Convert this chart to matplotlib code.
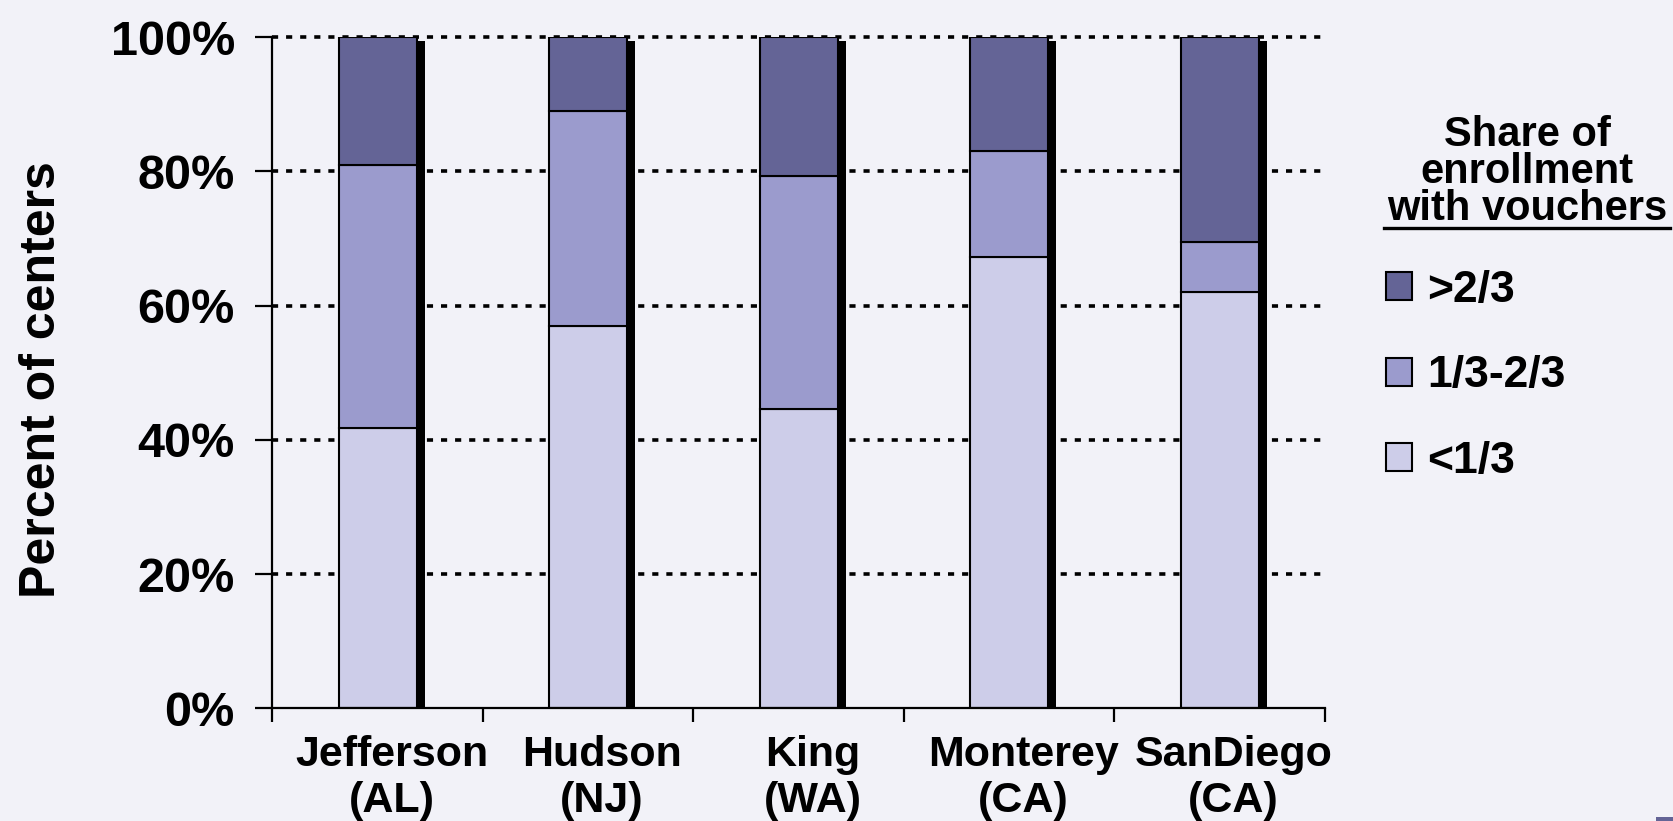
import matplotlib
matplotlib.use("Agg")
import matplotlib.pyplot as plt
import matplotlib.patches as mpatches
from matplotlib.transforms import ScaledTranslation
import numpy as np

# Data: share of centers by voucher enrollment share (percent)
counties = ["Jefferson\n(AL)", "Hudson\n(NJ)", "King\n(WA)", "Monterey\n(CA)", "SanDiego\n(CA)"]
low_share = [41.7, 57.0, 44.6, 67.2, 62.0]      # <1/3
mid_share = [39.2, 32.0, 34.7, 15.8, 7.5]       # 1/3-2/3
high_share = [19.1, 11.0, 20.7, 17.0, 30.5]     # >2/3
yticks = [0, 20, 40, 60, 80, 100]
ytick_labels = ["0%", "20%", "40%", "60%", "80%", "100%"]
legend_labels = [">2/3", "1/3-2/3", "<1/3"]

BG = "#f2f2f8"
C_HIGH = "#646496"
C_MID = "#9b9bcd"
C_LOW = "#cdcde9"

plt.rcParams["font.family"] = ["Liberation Sans", "DejaVu Sans"]
plt.rcParams["font.weight"] = "bold"

W, H, DPI = 1673, 821, 100
fig = plt.figure(figsize=(W / DPI, H / DPI), dpi=DPI, facecolor=BG)
ax = fig.add_axes([272.3 / W, 1 - 708.3 / H, (1325 - 272.3) / W, (708.3 - 37.3) / H])
ax.set_facecolor(BG)

x = np.arange(len(counties))
width = 0.37
low = np.array(low_share)
mid = np.array(mid_share)
high = np.array(high_share)
total = low + mid + high

# drop shadow behind each stacked bar
shadow_tr = ax.transData + ScaledTranslation(8 / DPI, -4 / DPI, fig.dpi_scale_trans)
ax.bar(x, total, width, color="black", edgecolor="none", transform=shadow_tr, zorder=1)

kw = dict(edgecolor="black", linewidth=1.5, zorder=2)
ax.bar(x, low, width, color=C_LOW, **kw)
ax.bar(x, mid, width, bottom=low, color=C_MID, **kw)
ax.bar(x, high, width, bottom=low + mid, color=C_HIGH, **kw)

ax.set_xlim(-0.5, len(counties) - 0.5)
ax.set_ylim(0, 100)

# dotted horizontal gridlines
for yv in yticks[1:]:
    ax.axhline(yv, color="black", linewidth=2.6, linestyle=(0, (1.7, 2.2)),
               zorder=0.5, clip_on=False)

for s in ["top", "right"]:
    ax.spines[s].set_visible(False)
for s in ["left", "bottom"]:
    ax.spines[s].set_linewidth(1.6)
    ax.spines[s].set_zorder(3)

ax.set_yticks(yticks)
ax.set_yticklabels(ytick_labels, fontsize=35, fontweight="bold")
ax.tick_params(axis="y", length=12, width=1.6, pad=15, direction="out")

ax.set_xticks(x)
ax.set_xticklabels(counties, fontsize=31, fontweight="bold", linespacing=1.2)
ax.set_xticks(np.arange(-0.5, len(counties)), minor=True)
ax.tick_params(axis="x", which="major", length=0, pad=19)
ax.tick_params(axis="x", which="minor", length=10, width=1.6, direction="out")
label_shift = ScaledTranslation(14 / DPI, 0, fig.dpi_scale_trans)
for lbl in ax.get_xticklabels():
    lbl.set_transform(lbl.get_transform() + label_shift)

fig.text(55 / W, 1 - 380 / H, "Percent of centers", rotation=90, fontsize=36,
         fontweight="bold", ha="center", va="baseline", rotation_mode="anchor")

# legend title with underline on its last line
fig.text(1527 / W, 1 - 220 / H, "Share of\nenrollment\nwith vouchers", fontsize=30,
         fontweight="bold", ha="center", va="baseline", multialignment="center",
         linespacing=0.91)
fig.add_artist(plt.Line2D([1384 / W, 1670 / W], [1 - 228 / H, 1 - 228 / H],
                          color="black", linewidth=2.4))

handles = [mpatches.Patch(facecolor=c, edgecolor="black", linewidth=1.5)
           for c in (C_HIGH, C_MID, C_LOW)]
fig.legend(handles, legend_labels, loc="upper left",
           bbox_to_anchor=(1386 / W, 1 - 270 / H), frameon=False,
           prop={"size": 32, "weight": "bold"}, handlelength=0.58, handleheight=0.58,
           handletextpad=0.35, labelspacing=1.0, borderaxespad=0, borderpad=0)

fig.add_artist(mpatches.Rectangle((1656 / W, 0), 17 / W, 4 / H, facecolor=C_HIGH,
                                  edgecolor="none", transform=fig.transFigure))

fig.savefig("out.png", dpi=DPI, facecolor=BG)
